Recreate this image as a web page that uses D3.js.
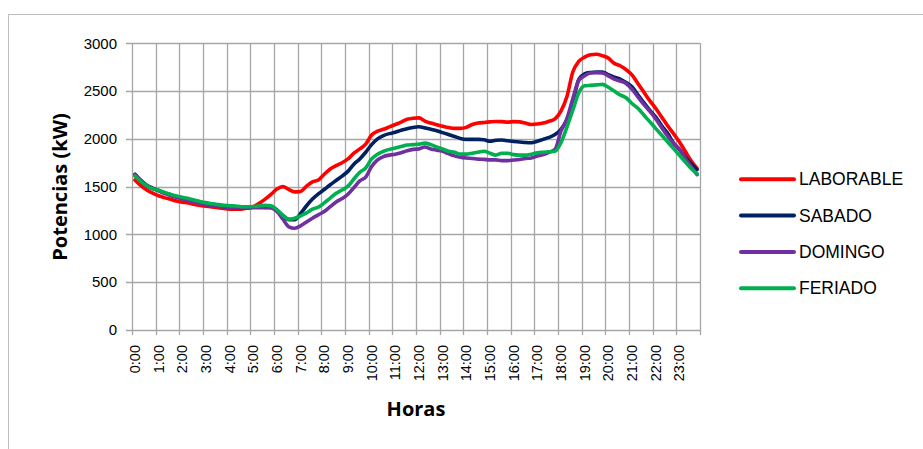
<!DOCTYPE html>
<html><head><meta charset="utf-8">
<script src="https://cdn.jsdelivr.net/npm/d3@7"></script>
<style>
html,body{margin:0;padding:0;background:#fff;}
svg{display:block;}
</style></head>
<body>
<svg id="c" width="923" height="449"></svg>
<script>
const hourLabels = ["0:00","1:00","2:00","3:00","4:00","5:00","6:00","7:00","8:00","9:00","10:00","11:00","12:00","13:00","14:00","15:00","16:00","17:00","18:00","19:00","20:00","21:00","22:00","23:00"];
const yTicks = [0,500,1000,1500,2000,2500,3000];
const seriesNames = ["LABORABLE","SABADO","DOMINGO","FERIADO"];
const seriesColors = ["#ff0000","#002060","#7030a0","#00b050"];

const laborable = [1570,1510,1465,1432,1405,1385,1368,1350,
 1338,1328,1315,1302,1295,1288,1280,1272,
 1265,1263,1265,1275,1290,1325,1370,1420,
 1475,1500,1470,1445,1450,1505,1550,1570,
 1630,1685,1720,1750,1790,1850,1895,1945,
 2040,2080,2100,2125,2150,2175,2205,2215,
 2220,2185,2165,2148,2132,2118,2110,2110,
 2120,2150,2165,2172,2178,2182,2180,2175,
 2180,2178,2165,2150,2155,2165,2185,2210,
 2290,2440,2700,2810,2855,2880,2885,2870,
 2845,2790,2765,2725,2670,2580,2490,2400,
 2320,2230,2140,2055,1970,1870,1770,1690];
const sabado = [1630,1565,1515,1485,1460,1435,1415,1395,
 1378,1362,1348,1335,1318,1308,1300,1292,
 1285,1280,1278,1280,1285,1285,1283,1285,
 1250,1200,1155,1155,1220,1300,1370,1425,
 1470,1520,1565,1610,1660,1735,1790,1860,
 1940,2000,2035,2055,2070,2090,2105,2120,
 2127,2115,2100,2085,2065,2045,2025,2005,
 1995,1995,1995,1990,1975,1985,1988,1980,
 1972,1968,1962,1960,1975,1995,2015,2045,
 2100,2200,2380,2620,2680,2695,2700,2700,
 2672,2645,2625,2590,2545,2460,2380,2300,
 2230,2140,2060,1960,1890,1810,1740,1680];
const domingo = [1625,1560,1510,1480,1455,1430,1408,1388,
 1370,1355,1340,1325,1312,1303,1295,1288,
 1282,1278,1276,1278,1280,1280,1280,1278,
 1240,1160,1080,1065,1090,1130,1170,1205,
 1240,1290,1340,1375,1420,1490,1560,1600,
 1710,1780,1815,1830,1840,1855,1875,1890,
 1895,1915,1895,1882,1870,1845,1822,1808,
 1800,1795,1788,1785,1780,1780,1772,1772,
 1778,1785,1795,1800,1820,1835,1860,1890,
 2080,2210,2420,2610,2660,2690,2692,2690,
 2660,2625,2605,2580,2520,2440,2360,2290,
 2210,2120,2030,1955,1895,1800,1710,1625];
const feriado = [1610,1555,1510,1480,1462,1440,1420,1402,
 1390,1375,1360,1345,1333,1322,1312,1305,
 1300,1298,1290,1290,1292,1298,1305,1300,
 1260,1200,1160,1170,1195,1225,1265,1285,
 1330,1380,1430,1465,1505,1580,1650,1695,
 1790,1840,1870,1890,1905,1920,1935,1940,
 1945,1955,1940,1915,1895,1870,1860,1840,
 1840,1850,1860,1870,1850,1830,1850,1850,
 1835,1830,1830,1840,1855,1860,1865,1870,
 1960,2120,2300,2480,2555,2560,2565,2570,
 2540,2500,2460,2430,2370,2320,2250,2180,
 2110,2040,1970,1900,1830,1760,1690,1635];

const seriesData = [laborable, sabado, domingo, feriado];
const perHour = laborable.length / hourLabels.length;

const svg = d3.select("#c");
const pLeft = 132, pRight = 700, pTop = 43.3, pBottom = 330;

// outer frame
svg.append("rect").attr("x",8.5).attr("y",14.5).attr("width",1000).attr("height",1000)
  .attr("fill","none").attr("stroke","#bfbfbf").attr("stroke-width",1);

const x = d3.scaleLinear().domain([0, laborable.length]).range([pLeft, pRight]);
const y = d3.scaleLinear().domain([0, 3000]).range([pBottom, pTop]);

const grid = "#a6a6a6";
// horizontal gridlines + y ticks
svg.append("g").selectAll("line").data(yTicks).join("line")
  .attr("x1", pLeft-6).attr("x2", pRight)
  .attr("y1", d => Math.round(y(d))+0.5).attr("y2", d => Math.round(y(d))+0.5)
  .attr("stroke", grid).attr("stroke-width",1.3);
// vertical gridlines at each hour
const hourIdx = d3.range(hourLabels.length + 1);
svg.append("g").selectAll("line").data(hourIdx).join("line")
  .attr("x1", d => Math.round(x(d*perHour))+0.5).attr("x2", d => Math.round(x(d*perHour))+0.5)
  .attr("y1", pTop).attr("y2", pBottom + 5)
  .attr("stroke", grid).attr("stroke-width",1.3);

// y labels
svg.append("g").selectAll("text").data(yTicks).join("text")
  .attr("x", 117).attr("y", d => y(d)).attr("dy","0.35em")
  .attr("text-anchor","end")
  .attr("font-family","'Liberation Sans', Arial, sans-serif").attr("font-size",15)
  .attr("fill","#000").text(d => d);

// x labels
svg.append("g").selectAll("text").data(hourLabels).join("text")
  .attr("transform", (d,i) => `translate(${x(i*perHour+0.5)},${345}) rotate(-90)`)
  .attr("dy","0.35em").attr("text-anchor","end")
  .attr("font-family","'Liberation Sans', Arial, sans-serif").attr("font-size",14.5)
  .attr("fill","#000").text(d => d);

// lines
const line = d3.line().x((d,i) => x(i+0.5)).y(d => y(d)).curve(d3.curveMonotoneX);
seriesData.forEach((s, k) => {
  svg.append("path").datum(s).attr("d", line)
    .attr("fill","none").attr("stroke", seriesColors[k]).attr("stroke-width",3.6)
    .attr("stroke-linejoin","round").attr("stroke-linecap","round");
});

// axis titles
svg.append("text").attr("transform","translate(67,187) rotate(-90)")
  .attr("text-anchor","middle")
  .attr("font-family","'Open Sans', sans-serif").attr("font-weight","bold").attr("font-size",20)
  .attr("fill","#000").text("Potencias (kW)");
svg.append("text").attr("x",(pLeft+pRight)/2).attr("y",416)
  .attr("text-anchor","middle")
  .attr("font-family","'Open Sans', sans-serif").attr("font-weight","bold").attr("font-size",20)
  .attr("fill","#000").text("Horas");

// legend
const lg = svg.append("g");
seriesNames.forEach((n, k) => {
  const ly = 179.3 + k*36.3;
  lg.append("line").attr("x1",741).attr("x2",794).attr("y1",ly).attr("y2",ly)
    .attr("stroke", seriesColors[k]).attr("stroke-width",4).attr("stroke-linecap","round");
  lg.append("text").attr("x",799).attr("y",ly).attr("dy","0.35em")
    .attr("font-family","'Liberation Sans', Arial, sans-serif").attr("font-size",17.5)
    .attr("fill","#000").text(n);
});
</script>
</body></html>
